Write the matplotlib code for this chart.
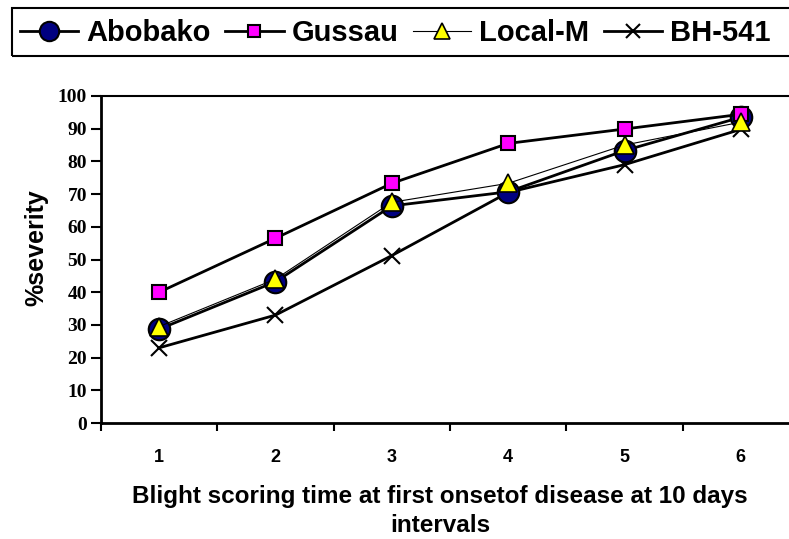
import matplotlib
matplotlib.use('Agg')
import matplotlib.pyplot as plt
from matplotlib.patches import Rectangle
from matplotlib.ticker import FixedLocator, NullFormatter

plt.rcParams['font.family'] = 'Liberation Sans'

# scoring rounds and % severity per variety
rounds = [1, 2, 3, 4, 5, 6]
abobako = [28.7, 43.2, 66.4, 70.7, 83.3, 93.5]
gussau = [40.0, 56.5, 73.3, 85.5, 89.9, 94.4]
local_m = [29.5, 44.0, 67.5, 73.3, 85.0, 92.0]
bh541 = [23.0, 33.0, 51.2, 70.5, 79.0, 89.8]

W, H = 789, 539
fig = plt.figure(figsize=(W / 100, H / 100), dpi=100)
fig.patch.set_facecolor('white')
ax = fig.add_axes([0.128, 0.2152, 0.8847, 0.6067])

ax.plot(rounds, abobako, color='black', lw=2, marker='o', ms=15.5,
        mfc='#000080', mec='black', mew=1.5, label='Abobako', zorder=3)
ax.plot(rounds, gussau, color='black', lw=2, marker='s', ms=9.5,
        mfc='#FF00FF', mec='black', mew=1.5, label='Gussau', zorder=4)
ax.plot(rounds, local_m, color='black', lw=0.8, marker='^', ms=12.5,
        mfc='#FFFF00', mec='black', mew=1.2, label='Local-M', zorder=5)
ax.plot(rounds, bh541, color='black', lw=2, marker='x', ms=11,
        mec='black', mew=1.5, label='BH-541', zorder=2)

ax.set_xlim(0.5, 6.5)
ax.set_ylim(0, 100)

# category ticks sit between the labels
ax.xaxis.set_major_locator(FixedLocator([0.5, 1.5, 2.5, 3.5, 4.5, 5.5, 6.5]))
ax.xaxis.set_major_formatter(NullFormatter())
ax.xaxis.set_minor_locator(FixedLocator(rounds))
ax.set_xticklabels([str(r) for r in rounds], minor=True)
ax.tick_params(axis='x', which='major', direction='out', length=6, width=1.5)
ax.tick_params(axis='x', which='minor', length=0, pad=19, labelsize=13)
for t in ax.get_xticklabels(minor=True):
    t.set_fontweight('bold')

ax.set_yticks(range(0, 101, 10))
ax.tick_params(axis='y', direction='out', length=7, width=1.5, pad=3)
for t in ax.get_yticklabels():
    t.set_fontfamily('Liberation Serif')
    t.set_fontweight('bold')
    t.set_fontsize(14)

for s in ax.spines.values():
    s.set_linewidth(1.5)
ax.spines['left'].set_linewidth(2)
ax.spines['bottom'].set_linewidth(2)

ax.set_ylabel('%severity', fontsize=18, fontweight='bold', va='center')
ax.yaxis.set_label_coords(-0.092, 0.535)
ax.set_xlabel('Blight scoring time at first onsetof disease at 10 days\nintervals',
              fontsize=17.5, fontweight='bold', va='center', linespacing=1.3)
ax.xaxis.set_label_coords(0.4857, -0.269)

# legend row, boxed by a frame that runs past the right edge
leg = fig.legend(loc='center left', bbox_to_anchor=(20 / W, 1 - 33 / H), ncol=4,
                 prop={'weight': 'bold', 'size': 21}, frameon=False,
                 handlelength=2.0, handletextpad=0.27, columnspacing=0.5,
                 borderpad=0, borderaxespad=0, markerscale=0.9)
fig.add_artist(Rectangle((12 / W, 1 - 56 / H), (810 - 12) / W, 48 / H,
                         transform=fig.transFigure, fill=False,
                         edgecolor='black', lw=1.5, clip_on=False))

fig.savefig('out.png', dpi=100, facecolor='white')
